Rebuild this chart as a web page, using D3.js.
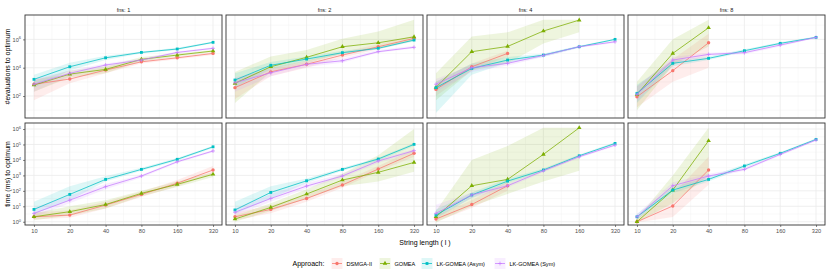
<!DOCTYPE html>
<html><head><meta charset="utf-8">
<script src="https://cdn.jsdelivr.net/npm/d3@7"></script>
<style>body{margin:0;background:#fff} svg{display:block;font-family:"Liberation Sans",Arial,sans-serif}</style>
</head><body><svg id="c" width="830" height="277"></svg>
<script>
// ---------------- DATA ----------------
const lengths = [10, 20, 40, 80, 160, 320];
const fnsValues = [1, 2, 4, 8];
const approaches = ["DSMGA-II", "GOMEA", "LK-GOMEA (Asym)", "LK-GOMEA (Sym)"];
const colors = ["#F8766D", "#7CAE00", "#00BFC4", "#C77CFF"];
const evalTicks = [1e2, 1e4, 1e6];
const timeTicks = [1e0, 1e1, 1e2, 1e3, 1e4, 1e5, 1e6];
const xTicks = [10, 20, 40, 80, 160, 320];

// #evaluations to optimum (rows: DSMGA-II, GOMEA, LK-GOMEA (Asym), LK-GOMEA (Sym))
const evalsFns1   = [[680,1580,6800,26000,50000,102000],[600,3550,7600,39000,78000,151000],[1510,11700,50000,120000,209000,617000],[680,4000,15500,34700,120000,234000]];
const evalsFns1Lo = [[50,790,4000,20000,40000,79000],[200,2000,4000,28000,63000,126000],[400,6300,35500,100000,178000,525000],[200,2500,11200,28000,100000,200000]];
const evalsFns1Hi = [[1580,3160,11200,35500,63000,126000],[1260,6300,12600,56000,100000,178000],[3160,22400,71000,141000,251000,708000],[1580,6300,20000,44700,141000,282000]];

const evalsFns2   = [[390,5100,17400,78000,302000,1175000],[790,11700,54000,302000,575000,1510000],[1350,14800,40700,115000,234000,891000],[870,4370,17400,30900,135000,275000]];
const evalsFns2Lo = [[63,2500,10000,50000,200000,794000],[32,5000,20000,100000,251000,794000],[400,7900,28000,89000,200000,708000],[200,2500,11200,22400,112000,224000]];
const evalsFns2Hi = [[1580,10000,31600,126000,447000,1780000],[5000,63000,178000,1120000,3550000,24000000],[4000,25000,63000,158000,282000,1120000],[2000,7900,25000,44700,178000,355000]];

const evalsFns4   = [[295,11700,102000,null,null,null],[410,135000,316000,3890000,22900000,null],[390,8900,34700,77600,302000,1000000],[680,10000,20400,74100,302000,676000]];
const evalsFns4Lo = [[100,6300,63000,null,null,null],[50,6300,20000,501000,3160000,null],[6.3,3160,22400,56000,251000,891000],[200,5000,14100,56000,251000,562000]];
const evalsFns4Hi = [[1000,20000,158000,null,null,null],[4000,1580000,3160000,24000000,24500000,null],[1000,20000,56000,100000,355000,1120000],[1580,15800,28000,89000,355000,794000]];

const evalsFns8   = [[89,6200,575000,null,null,null],[132,102000,6600000,null,null,null],[155,20400,45700,158000,525000,1380000],[132,34700,87100,115000,398000,1380000]];
const evalsFns8Lo = [[16,1000,10000,null,null,null],[10,15800,316000,null,null,null],[32,12600,35500,126000,447000,1260000],[40,20000,71000,89000,316000,1260000]];
const evalsFns8Hi = [[500,40000,2500000,null,null,null],[1000,1000000,24000000,null,null,null],[630,31600,63000,200000,631000,1580000],[500,56000,112000,141000,500000,1580000]];

// time (ms) to optimum
const timeFns1   = [[2.1,2.7,12,59,309,2240],[2.1,4.5,13,69,263,1175],[6.3,59,550,2450,11000,70800],[3.5,25,186,912,7590,38000]];
const timeFns1Lo = [[1.4,1.8,7.1,40,200,1260],[1.26,2.5,7.1,45,178,794],[3.2,25,400,2000,8900,60000],[2.0,16,126,708,6300,31600]];
const timeFns1Hi = [[4.0,5.6,20,89,500,4000],[3.5,10,25,100,400,1580],[20,200,890,3160,13200,83000],[7.9,50,282,1120,8900,44700]];

const timeFns2   = [[2.1,6.3,32,240,2570,26900],[1.5,8.5,62,500,1580,6900],[5.8,79,447,2450,11500,102000],[4.1,32,204,912,8500,39800]];
const timeFns2Lo = [[1.26,3.5,20,158,1780,15800],[1.0,5.0,32,200,400,1740],[3.2,32,316,2000,8900,79000],[2.5,20,141,708,6300,31600]];
const timeFns2Hi = [[4.0,11.2,56,400,4000,50000],[2.5,16,126,1260,20000,1000000],[20,200,630,3160,14100,126000],[7.1,63,316,1260,11200,50000]];

const timeFns4   = [[1.5,13,214,null,null,null],[2.1,214,550,22900,1200000,null],[2.7,54,427,2240,18600,117000],[3.5,54,214,2000,16200,91000]];
const timeFns4Lo = [[1.0,7.9,100,null,null,null],[0.9,10,63,400,2000,null],[1.6,35,316,1780,15800,100000],[2.0,35,158,1580,13200,76000]];
const timeFns4Hi = [[2.5,25,400,null,null,null],[5.0,10000,79000,1200000,1230000,null],[6.3,79,630,2800,22400,141000],[12.6,79,282,2500,20000,112000]];

const timeFns8   = [[1.0,10.5,2240,null,null,null],[1.0,112,174000,null,null,null],[2.1,112,550,4070,26900,214000],[2.1,214,912,2450,22900,195000]];
const timeFns8Lo = [[0.9,2.0,250,null,null,null],[0.9,16,1000,null,null,null],[1.4,71,400,3160,22400,186000],[1.4,126,630,2000,19000,170000]];
const timeFns8Hi = [[1.6,63,15800,null,null,null],[1.6,1000,1200000,null,null,null],[3.2,178,794,5250,31600,251000],[3.2,355,1260,3160,28000,229000]];

const panelsData = [
  [[evalsFns1, evalsFns1Lo, evalsFns1Hi],[evalsFns2, evalsFns2Lo, evalsFns2Hi],[evalsFns4, evalsFns4Lo, evalsFns4Hi],[evalsFns8, evalsFns8Lo, evalsFns8Hi]],
  [[timeFns1, timeFns1Lo, timeFns1Hi],[timeFns2, timeFns2Lo, timeFns2Hi],[timeFns4, timeFns4Lo, timeFns4Hi],[timeFns8, timeFns8Lo, timeFns8Hi]]
];

// ---------------- LAYOUT ----------------
const svg = d3.select("#c");
const panelW = 197, panelGap = 4, left0 = 25;
const rows = [
  {top: 15, bottom: 118, domain: [Math.pow(10,0.45), Math.pow(10,7.72)], ticks: evalTicks, minor: [1e1,1e3,1e5,1e7], title: "#evaluations to optimum"},
  {top: 123, bottom: 225, domain: [Math.pow(10,-0.21), Math.pow(10,6.39)], ticks: timeTicks,
   minor: [-0.5,0.5,1.5,2.5,3.5,4.5,5.5].map(e => Math.pow(10,e)), title: "time (ms) to optimum"}
];
const grey30 = "#4d4d4d";
const fs = 5.6;

function symbolPath(k, size) {
  if (k === 0) return d3.symbol(d3.symbolCircle, 9)();
  if (k === 1) return d3.symbol(d3.symbolTriangle, 9)();
  if (k === 2) return d3.symbol(d3.symbolSquare, 8)();
  const s = 1.9;
  return `M${-s},0H${s}M0,${-s}V${s}`;
}
function drawPoint(g, k, x, y) {
  const p = g.append("path").attr("d", symbolPath(k)).attr("transform", `translate(${x},${y})`);
  if (k === 3) p.attr("fill", "none").attr("stroke", colors[k]).attr("stroke-width", 0.7);
  else p.attr("fill", colors[k]);
}
function supLabel(sel, v) {
  const e = Math.round(Math.log10(v));
  sel.text(null);
  sel.append("tspan").text("10");
  sel.append("tspan").attr("dy", -2.2).attr("font-size", fs * 0.72).text(e);
}

rows.forEach((row, ri) => {
  const y = d3.scaleLog().domain(row.domain).range([row.bottom, row.top]);
  fnsValues.forEach((fns, ci) => {
    const x0 = left0 + ci * (panelW + panelGap);
    const x = d3.scaleLog().base(2).domain([10 * Math.pow(2, -0.25), 320 * Math.pow(2, 0.25)]).range([x0, x0 + panelW]);
    const g = svg.append("g");
    const clipId = `clip${ri}${ci}`;
    svg.append("clipPath").attr("id", clipId).append("rect")
      .attr("x", x0).attr("y", row.top).attr("width", panelW).attr("height", row.bottom - row.top);
    // grid
    const grid = g.append("g");
    const xMinor = xTicks.slice(0, -1).map(v => v * Math.SQRT2).concat([10 / Math.SQRT2]);
    xMinor.forEach(v => { if (x(v) > x0 && x(v) < x0 + panelW) grid.append("line").attr("x1", x(v)).attr("x2", x(v)).attr("y1", row.top).attr("y2", row.bottom).attr("stroke", "#f3f3f3").attr("stroke-width", 0.5); });
    row.minor.forEach(v => { const yy = y(v); if (yy > row.top && yy < row.bottom) grid.append("line").attr("x1", x0).attr("x2", x0 + panelW).attr("y1", yy).attr("y2", yy).attr("stroke", "#f3f3f3").attr("stroke-width", 0.5); });
    xTicks.forEach(v => grid.append("line").attr("x1", x(v)).attr("x2", x(v)).attr("y1", row.top).attr("y2", row.bottom).attr("stroke", "#ebebeb").attr("stroke-width", 0.8));
    row.ticks.forEach(v => { const yy = y(v); if (yy > row.top && yy < row.bottom) grid.append("line").attr("x1", x0).attr("x2", x0 + panelW).attr("y1", yy).attr("y2", yy).attr("stroke", "#ebebeb").attr("stroke-width", 0.8); });

    const [mean, lo, hi] = panelsData[ri][ci];
    const data = g.append("g").attr("clip-path", `url(#${clipId})`);
    // ribbons
    approaches.forEach((a, k) => {
      const pts = lengths.map((L, j) => ({L, lo: lo[k][j], hi: hi[k][j]})).filter(d => d.lo != null);
      const area = d3.area().x(d => x(d.L)).y0(d => y(d.lo)).y1(d => y(d.hi));
      data.append("path").attr("d", area(pts)).attr("fill", colors[k]).attr("fill-opacity", 0.13);
    });
    // lines + points
    approaches.forEach((a, k) => {
      const pts = lengths.map((L, j) => ({L, v: mean[k][j]})).filter(d => d.v != null);
      const line = d3.line().x(d => x(d.L)).y(d => y(d.v));
      data.append("path").attr("d", line(pts)).attr("fill", "none").attr("stroke", colors[k]).attr("stroke-width", 0.75);
      pts.forEach(d => drawPoint(data, k, x(d.L), y(d.v)));
    });
    // border
    g.append("rect").attr("x", x0).attr("y", row.top).attr("width", panelW).attr("height", row.bottom - row.top)
      .attr("fill", "none").attr("stroke", "#333").attr("stroke-width", 0.9);
    // strip
    if (ri === 0) g.append("text").attr("x", x0 + panelW / 2).attr("y", 11.5).attr("text-anchor", "middle")
      .attr("font-size", 5.6).attr("fill", "#1a1a1a").text(`fns: ${fns}`);
    // x axis
    if (ri === 1) {
      const ax = g.append("g").attr("transform", `translate(0,${row.bottom})`)
        .call(d3.axisBottom(x).tickValues(xTicks).tickFormat(d3.format("d")).tickSize(2).tickPadding(2.5));
      ax.select(".domain").remove();
      ax.selectAll(".tick line").attr("stroke", "#333").attr("stroke-width", 0.6);
      ax.selectAll(".tick text").attr("font-size", fs).attr("fill", grey30).attr("font-family", "Liberation Sans, Arial, sans-serif");
    }
    // y axis
    if (ci === 0) {
      const ay = g.append("g").attr("transform", `translate(${x0},0)`)
        .call(d3.axisLeft(y).tickValues(row.ticks).tickSize(2).tickPadding(2));
      ay.select(".domain").remove();
      ay.selectAll(".tick line").attr("stroke", "#333").attr("stroke-width", 0.6);
      ay.selectAll(".tick text").attr("font-size", fs).attr("fill", grey30).attr("font-family", "Liberation Sans, Arial, sans-serif")
        .each(function(d) { supLabel(d3.select(this), d); });
    }
  });
  // y title
  svg.append("text").attr("transform", `translate(9.5,${(row.top + row.bottom) / 2}) rotate(-90)`)
    .attr("text-anchor", "middle").attr("font-size", 7).attr("fill", "#000").text(row.title);
});

// x title
svg.append("text").attr("x", left0 + (4 * panelW + 3 * panelGap) / 2).attr("y", 244.5).attr("text-anchor", "middle")
  .attr("font-size", 7).attr("fill", "#000").text("String length ( l )");

// legend
const lg = svg.append("g").attr("transform", "translate(0,263.5)");
lg.append("text").attr("x", 292.5).attr("y", 2.4).attr("font-size", 7).attr("fill", "#000").text("Approach:");
const keyX = [331.5, 379.5, 421.5, 494.5];
approaches.forEach((a, k) => {
  const kx = keyX[k];
  lg.append("rect").attr("x", kx).attr("y", -5.5).attr("width", 11).attr("height", 11).attr("fill", colors[k]).attr("fill-opacity", 0.13);
  lg.append("line").attr("x1", kx + 0.5).attr("x2", kx + 10.5).attr("y1", 0).attr("y2", 0).attr("stroke", colors[k]).attr("stroke-width", 0.75);
  drawPoint(lg, k, kx + 5.5, 0);
  lg.append("text").attr("x", kx + 15).attr("y", 2).attr("font-size", 5.6).attr("fill", "#000").text(a);
});
</script></body></html>
